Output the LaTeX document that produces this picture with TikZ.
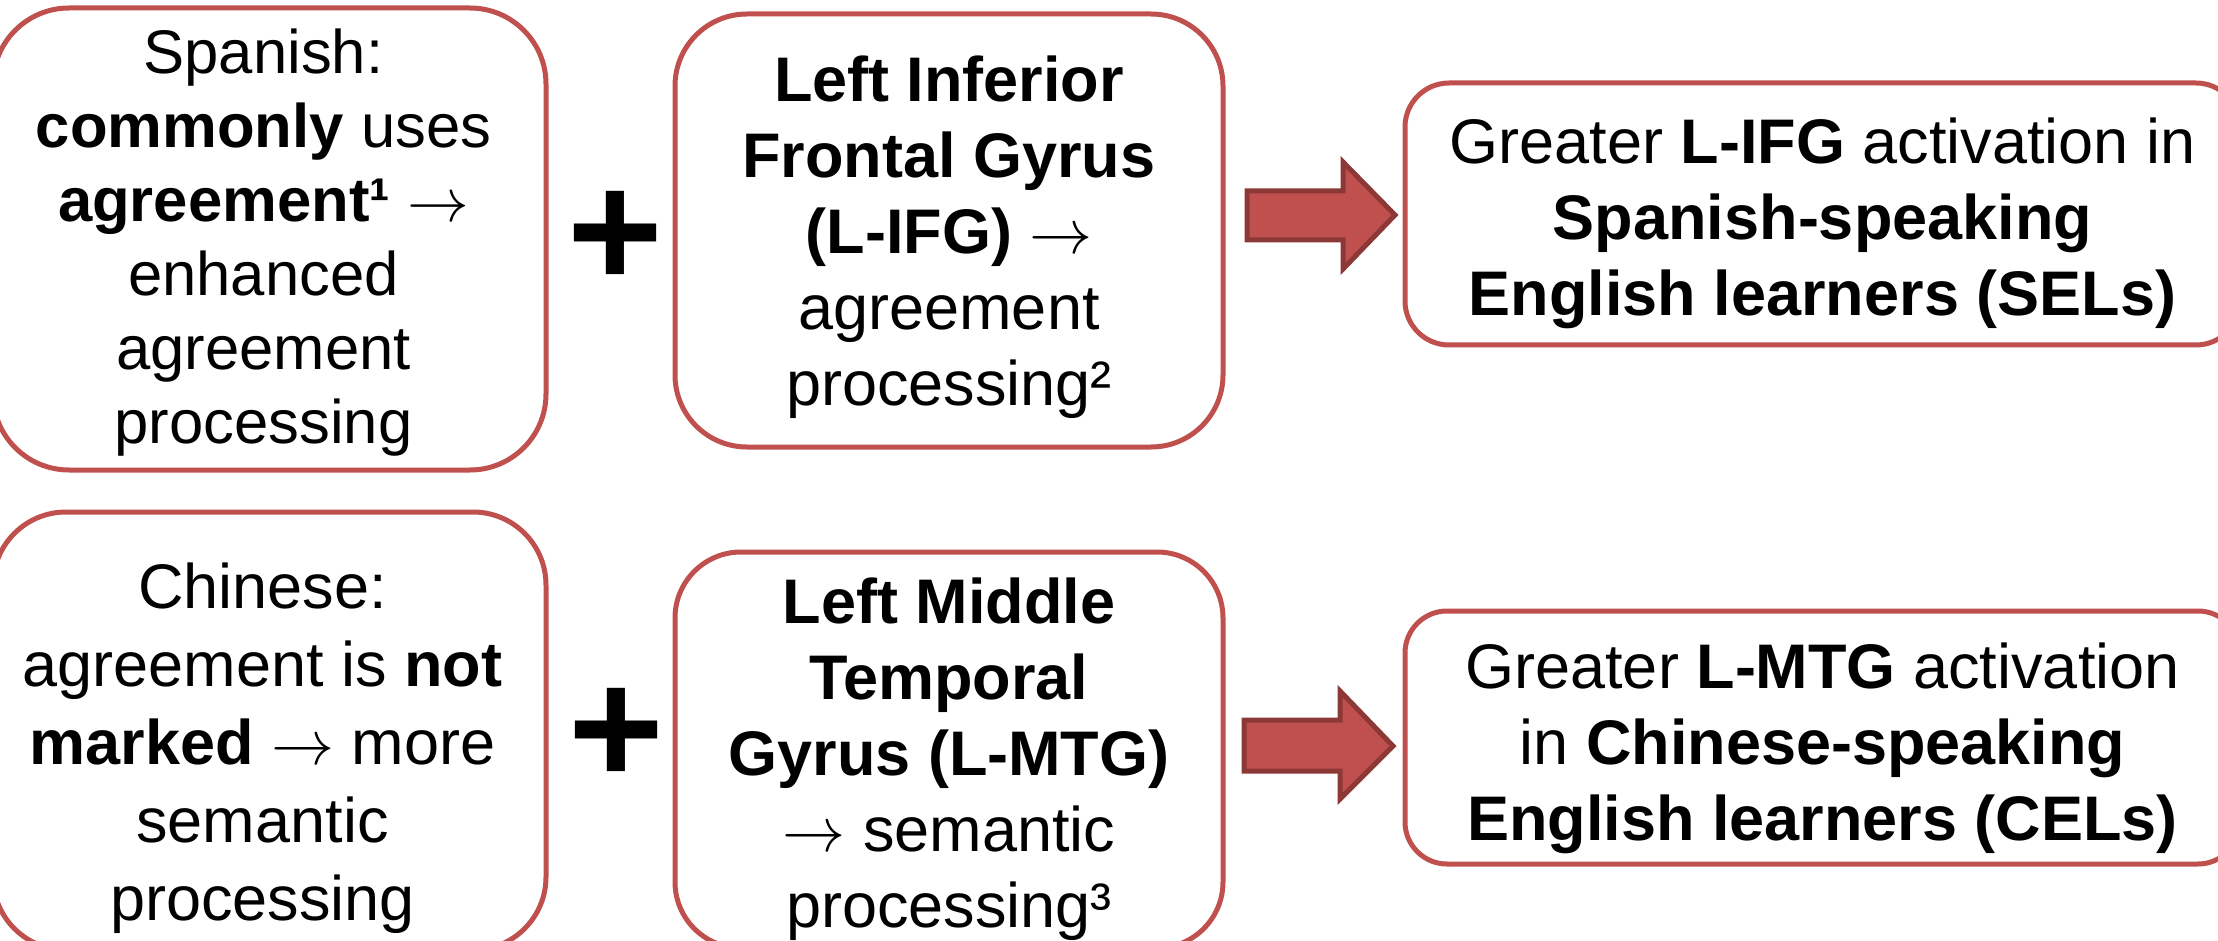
\RequirePackage{fix-cm}
\documentclass[tikz,border=0pt]{standalone}
\usepackage{fontspec}
\setmainfont{Liberation Sans}
\definecolor{boxred}{HTML}{C0504D}
\definecolor{arrowedge}{HTML}{8C3836}
\newcommand{\ra}{$\rightarrow$}
\tikzset{
  box/.style={draw=boxred, line width=2.5pt, fill=white, inner sep=0pt},
  txt/.style={align=center, inner sep=0pt, font=\fontsize{31.5}{#1}\selectfont},
  txt/.default=38,
  smalltxt/.style={align=center, inner sep=0pt, font=\fontsize{30.8}{37}\selectfont},
  plussign/.style={inner sep=0pt, font=\fontsize{82}{82}\selectfont\bfseries},
  blockarrow/.style={draw=arrowedge, fill=boxred, line width=2.5pt, line join=miter}
}
\begin{document}
\begin{tikzpicture}[x=0.5pt,y=-0.5pt]
\useasboundingbox (0,0) rectangle (2218,941);
% top row
\node[box, minimum width=276.5pt, minimum height=231pt, rounded corners=38pt] (spa) at (269.5,239) {};
\node[smalltxt] (spatxt) at ([xshift=-3pt,yshift=-2pt]spa.center)
  {Spanish:\\ \textbf{commonly} uses\\ \textbf{agreement¹} \ra\\ enhanced\\ agreement\\ processing};
\node[plussign] (plus1) at (615,239) {+};
\node[box, minimum width=274pt, minimum height=216.5pt, rounded corners=36pt] (lifg) at (949,230.5) {};
\node[txt] (lifgtxt) at ([yshift=-3.5pt]lifg.center)
  {\textbf{Left Inferior}\\ \textbf{Frontal Gyrus}\\ \textbf{(L-IFG)} \ra\\ agreement\\ processing²};
\node[box, minimum width=417.5pt, minimum height=131pt, rounded corners=22pt] (sel) at (1822.5,214) {};
\node[txt] (seltxt) at ([yshift=-4.5pt]sel.center)
  {Greater \textbf{L-IFG} activation in\\ \textbf{Spanish-speaking}\\ \textbf{English learners (SELs)}};
\draw[blockarrow] (1247,191) -- (1343,191) -- (1343,162) -- (1395,215) -- (1343,269) -- (1343,240) -- (1247,240) -- cycle;
% bottom row
\node[box, minimum width=276.5pt, minimum height=219pt, rounded corners=36.5pt] (chi) at (269.5,731) {};
\node[txt=39] (chitxt) at ([xshift=-3.5pt,yshift=-8.5pt]chi.center)
  {Chinese:\\ agreement is \textbf{not}\\ \textbf{marked} \ra{} more\\ semantic\\ processing};
\node[plussign] (plus2) at (616,736) {+};
\node[box, minimum width=274pt, minimum height=198pt, rounded corners=33pt] (lmtg) at (949,750) {};
\node[txt] (lmtgtxt) at ([yshift=-4.5pt]lmtg.center)
  {\textbf{Left Middle}\\ \textbf{Temporal}\\ \textbf{Gyrus (L-MTG)}\\ \ra{} semantic\\ processing³};
\node[box, minimum width=417.5pt, minimum height=126.5pt, rounded corners=21pt] (cel) at (1822.5,737.5) {};
\node[txt] (celtxt) at ([yshift=-5.5pt]cel.center)
  {Greater \textbf{L-MTG} activation\\ in \textbf{Chinese-speaking}\\ \textbf{English learners (CELs)}};
\draw[blockarrow] (1244,720) -- (1340,720) -- (1340,691) -- (1393,746) -- (1340,799) -- (1340,771) -- (1244,771) -- cycle;
\end{tikzpicture}
\end{document}
